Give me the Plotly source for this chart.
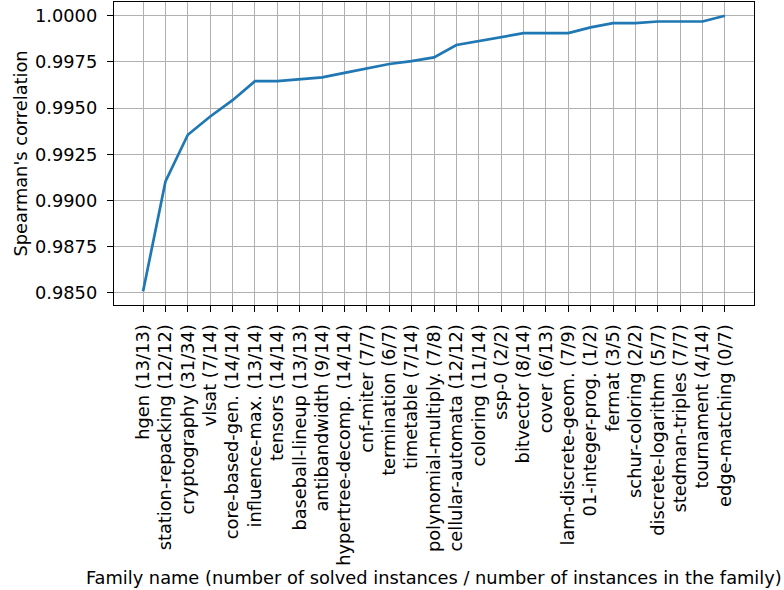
import plotly.graph_objects as go

# Instance families, ordered by rank correlation
families = [
    "hgen (13/13)", "station-repacking (12/12)", "cryptography (31/34)",
    "vlsat (7/14)", "core-based-gen. (14/14)", "influence-max. (13/14)",
    "tensors (14/14)", "baseball-lineup (13/13)", "antibandwidth (9/14)",
    "hypertree-decomp. (14/14)", "cnf-miter (7/7)", "termination (6/7)",
    "timetable (7/14)", "polynomial-multiply. (7/8)", "cellular-automata (12/12)",
    "coloring (11/14)", "ssp-0 (2/2)", "bitvector (8/14)", "cover (6/13)",
    "lam-discrete-geom. (7/9)", "01-integer-prog. (1/2)", "fermat (3/5)",
    "schur-coloring (2/2)", "discrete-logarithm (5/7)", "stedman-triples (7/7)",
    "tournament (4/14)", "edge-matching (0/7)",
]

# Spearman's correlation per family
spearman = [
    0.98509, 0.99103, 0.99356, 0.99455, 0.99543, 0.99646, 0.99646, 0.99655,
    0.99667, 0.99691, 0.99716, 0.99739, 0.99755, 0.99775, 0.99842, 0.99863,
    0.99885, 0.99906, 0.99906, 0.99906, 0.99937, 0.99960, 0.99960, 0.99969,
    0.99969, 0.99969, 1.00000,
]

y_ticks = [0.9850, 0.9875, 0.9900, 0.9925, 0.9950, 0.9975, 1.0000]

FONT = "DejaVu Sans"
FS = 17.8

idx = list(range(len(families)))

# 5% padding around the data, like matplotlib's default margins
n = len(families)
xpad = 0.05 * (n - 1)
ymin, ymax = min(spearman), max(spearman)
ypad = 0.05 * (ymax - ymin)

fig = go.Figure(
    go.Scatter(
        x=idx,
        y=spearman,
        mode="lines",
        line=dict(color="#1f77b4", width=2.7),
        hoverinfo="skip",
    )
)

axis_common = dict(
    showline=True,
    mirror=True,
    linecolor="black",
    linewidth=1.4,
    ticks="outside",
    ticklen=6,
    tickwidth=1.4,
    tickcolor="black",
    showgrid=True,
    gridcolor="#b0b0b0",
    gridwidth=1.4,
    zeroline=False,
    tickfont=dict(family=FONT, size=FS, color="black"),
)

fig.update_xaxes(
    tickmode="array",
    tickvals=idx,
    ticktext=families,
    tickangle=-90,
    range=[-xpad, n - 1 + xpad],
    ticklabelstandoff=5,
    **axis_common,
)
fig.update_yaxes(
    tickmode="array",
    tickvals=y_ticks,
    ticktext=[f"{v:.4f}" for v in y_ticks],
    range=[ymin - ypad, ymax + ypad],
    ticklabelstandoff=6,
    **axis_common,
)

fig.add_annotation(
    text="Family name (number of solved instances / number of instances in the family)",
    xref="paper", yref="paper", x=0.5, y=0,
    xanchor="center", yanchor="middle", yshift=-272,
    showarrow=False, font=dict(family=FONT, size=FS, color="black"),
)
fig.add_annotation(
    text="Spearman's correlation",
    xref="paper", yref="paper", x=0, y=0.5,
    xanchor="center", yanchor="middle", xshift=-94, textangle=-90,
    showarrow=False, font=dict(family=FONT, size=FS, color="black"),
)

fig.update_layout(
    width=784,
    height=590,
    margin=dict(l=114, r=30, t=2, b=285),
    paper_bgcolor="white",
    plot_bgcolor="white",
    showlegend=False,
)

fig.write_html("out.html")
